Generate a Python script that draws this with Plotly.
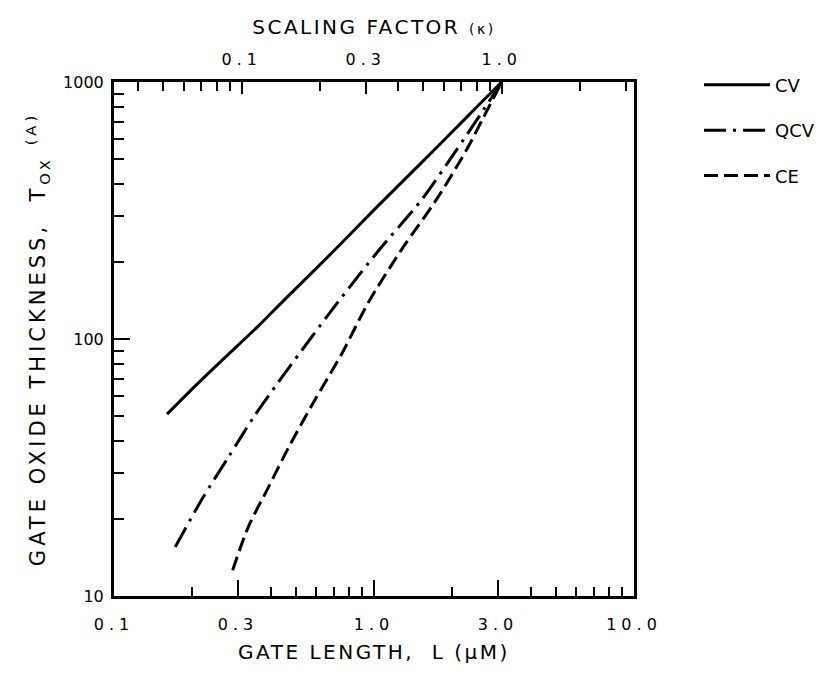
import math
import plotly.graph_objects as go

# Gate length (um) vs gate oxide thickness (Angstrom) for three scaling rules
cv_L = [0.16, 0.197, 0.265, 0.358, 0.452, 0.70, 1.0, 1.5, 2.0, 2.5, 3.1]
cv_T = [51, 63, 84, 112, 142, 220, 318, 478, 640, 805, 1000]

qcv_L = [0.172, 0.219, 0.277, 0.346, 0.429, 0.526, 0.67, 1.0, 1.53, 2.04, 2.55, 3.1]
qcv_T = [15.5, 24, 35, 50, 68, 90, 125, 210, 350, 530, 740, 1000]

ce_L = [0.286, 0.328, 0.392, 0.469, 0.59, 0.751, 0.956, 1.3, 1.72, 2.25, 2.62, 3.1]
ce_T = [12.6, 18.5, 26.4, 37.8, 57.5, 87.5, 140, 229, 343, 536, 719, 1000]

# Axis tick values and labels
x_major = [0.1, 0.3, 1.0, 3.0, 10.0]
x_major_text = ["0.1", "0.3", "1.0", "3.0", "10.0"]
x_minor = [0.2, 0.4, 0.5, 0.6, 0.7, 0.8, 0.9, 2, 4, 5, 6, 7, 8, 9]

y_major = [10, 100, 1000]
y_major_text = ["10", "100", "1000"]
y_minor = [20, 30, 40, 50, 60, 70, 80, 90, 200, 300, 400, 500, 600, 700, 800, 900]

k_major = [0.1, 0.3, 1.0]
k_major_text = ["0.1", "0.3", "1.0"]
k_minor = [0.04, 0.05, 0.06, 0.07, 0.08, 0.09, 0.2, 0.4, 0.5, 0.6, 0.7, 0.8, 0.9, 2, 3]

# gate length corresponding to a scaling factor of 1
L_ref = 3.1

FONT = "DejaVu Sans"
LW = 3


def spaced(text, px):
    return f"<span style='letter-spacing:{px}px'>{text}</span>"


fig = go.Figure()
fig.add_trace(go.Scatter(x=cv_L, y=cv_T, mode="lines", name="CV", legendgroup="cv",
                         line=dict(color="black", width=LW, shape="spline", smoothing=0.8)))
fig.add_trace(go.Scatter(x=qcv_L, y=qcv_T, mode="lines", name="QCV", legendgroup="qcv",
                         line=dict(color="black", width=LW, shape="spline", smoothing=0.8,
                                   dash="22px,7px,3px,7px")))
fig.add_trace(go.Scatter(x=ce_L, y=ce_T, mode="lines", name="CE", legendgroup="ce",
                         line=dict(color="black", width=LW, shape="spline", smoothing=0.8,
                                   dash="14px,6px")))
# invisible trace carrying the top scaling-factor axis
fig.add_trace(go.Scatter(x=[k_major[0], k_major[-1]], y=[100, 100], xaxis="x2",
                         mode="lines", line=dict(width=0), showlegend=False,
                         hoverinfo="skip"))

tick_font = dict(family=FONT, size=16, color="black")
title_font = dict(family=FONT, size=20, color="black")

fig.update_layout(
    width=839, height=675,
    margin=dict(l=114, r=205, t=82, b=79),
    paper_bgcolor="white", plot_bgcolor="white",
    showlegend=True,
    legend=dict(x=1.125, y=1.03, xanchor="left", yanchor="top",
                traceorder="grouped", tracegroupgap=19, itemwidth=66,
                font=dict(family=FONT, size=18, color="black"),
                bgcolor="rgba(0,0,0,0)"),
    xaxis=dict(
        type="log", range=[-1, 1],
        tickmode="array", tickvals=x_major,
        ticktext=[spaced(t, 5) for t in x_major_text],
        ticks="inside", ticklen=16, tickwidth=2, tickcolor="black",
        minor=dict(tickmode="array", tickvals=x_minor, ticks="inside",
                   ticklen=9, tickwidth=2, tickcolor="black"),
        showgrid=False, zeroline=False,
        showline=True, linewidth=3, linecolor="black",
        tickfont=tick_font, ticklabelstandoff=12,
        title=dict(text=spaced("GATE LENGTH,  L (\u03bcM)", 2.5), font=title_font, standoff=12),
    ),
    xaxis2=dict(
        type="log", overlaying="x", side="top",
        range=[math.log10(0.1 / L_ref), math.log10(10 / L_ref)],
        tickmode="array", tickvals=k_major,
        ticktext=[spaced(t, 5) for t in k_major_text],
        ticks="inside", ticklen=12, tickwidth=2, tickcolor="black",
        minor=dict(tickmode="array", tickvals=k_minor, ticks="inside",
                   ticklen=9, tickwidth=2, tickcolor="black"),
        showgrid=False, zeroline=False,
        showline=True, linewidth=3, linecolor="black",
        tickfont=tick_font, ticklabelstandoff=8,
        title=dict(text=spaced("SCALING FACTOR <span style='font-size:14px'>(\u03ba)</span>", 2.5),
                   font=title_font, standoff=10),
    ),
    yaxis=dict(
        type="log", range=[1, 3],
        tickmode="array", tickvals=y_major, ticktext=y_major_text,
        ticks="inside", ticklen=16, tickwidth=2, tickcolor="black",
        minor=dict(tickmode="array", tickvals=y_minor, ticks="inside",
                   ticklen=10, tickwidth=2, tickcolor="black"),
        showgrid=False, zeroline=False,
        showline=True, linewidth=3, linecolor="black", mirror=True,
        tickfont=tick_font, ticklabelstandoff=4,
        title=dict(text=spaced("GATE OXIDE THICKNESS,  T<sub>OX</sub> <sup>(A)</sup>", 4),
                   font=dict(family=FONT, size=21, color="black"), standoff=12),
    ),
)

fig.write_html("out.html")
